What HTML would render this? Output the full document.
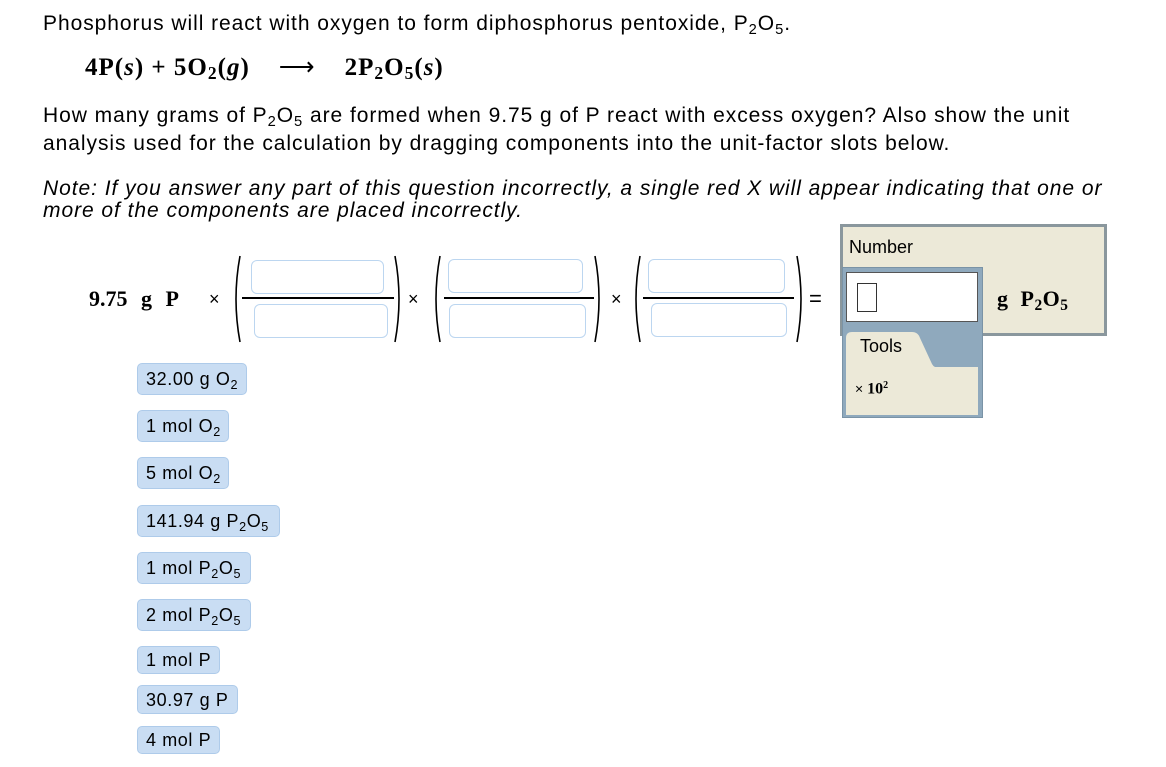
<!DOCTYPE html>
<html><head><meta charset="utf-8"><style>
body{margin:0;width:1166px;height:767px;background:#fff;position:relative;overflow:hidden;font-family:"Liberation Sans",Arial,sans-serif;color:#000}
.a{position:absolute;white-space:nowrap}
.t{font-size:21px;line-height:24px;letter-spacing:0.95px}
.s{font-family:"Liberation Serif",serif;font-weight:bold}
sub{font-size:70%;vertical-align:-4px;line-height:0}
.chip{position:absolute;left:137px;height:32px;background:#c9ddf3;border:1px solid #aecbea;border-radius:5px;box-sizing:border-box;font-size:18px;line-height:31px;padding-left:8px;letter-spacing:0.6px;white-space:nowrap}
.slot{position:absolute;border:1px solid #bcd6f0;border-radius:6px;box-sizing:border-box;background:#fff}
.ln{position:absolute;height:2px;background:#000}
.x{position:absolute;font-size:18px}
</style></head><body>
<div class="a t" style="left:43px;top:12px">Phosphorus will react with oxygen to form diphosphorus pentoxide, P<sub>2</sub>O<sub>5</sub>.</div>
<div class="a s" style="left:85px;top:52px;font-size:25px;letter-spacing:1px">4P(<i>s</i>) + 5O<sub>2</sub>(<i>g</i>) &nbsp;&nbsp;&nbsp;<span style="font-weight:normal">⟶</span>&nbsp;&nbsp;&nbsp; 2P<sub>2</sub>O<sub>5</sub>(<i>s</i>)</div>
<div class="a t" style="left:43px;top:104px">How many grams of P<sub>2</sub>O<sub>5</sub> are formed when 9.75 g of P react with excess oxygen? Also show the unit</div>
<div class="a t" style="left:43px;top:132px">analysis used for the calculation by dragging components into the unit-factor slots below.</div>
<div class="a t" style="left:43px;top:178px;font-style:italic;line-height:22px">Note: If you answer any part of this question incorrectly, a single red X will appear indicating that one or<br>more of the components are placed incorrectly.</div>

<div class="a s" style="left:89px;top:286px;font-size:22px;word-spacing:8px">9.75 g P</div>
<div class="x" style="left:209px;top:289px">×</div>
<svg style="position:absolute;left:0;top:0" width="1166" height="767" fill="none" stroke="#000" stroke-width="1.6">
<path d="M240 256 Q232 299 240 342"/><path d="M395 256 Q403 299 395 342"/>
<path d="M440 256 Q432 299 440 342"/><path d="M595 256 Q603 299 595 342"/>
<path d="M640 256 Q632 299 640 342"/><path d="M797 256 Q805 299 797 342"/>
</svg>
<div class="slot" style="left:251px;top:260px;width:133px;height:34px"></div>
<div class="ln" style="left:242px;top:297px;width:152px"></div>
<div class="slot" style="left:254px;top:304px;width:134px;height:34px"></div>
<div class="x" style="left:408px;top:289px">×</div>
<div class="slot" style="left:448px;top:259px;width:135px;height:34px"></div>
<div class="ln" style="left:444px;top:297px;width:150px"></div>
<div class="slot" style="left:449px;top:304px;width:137px;height:34px"></div>
<div class="x" style="left:611px;top:289px">×</div>
<div class="slot" style="left:648px;top:259px;width:137px;height:34px"></div>
<div class="ln" style="left:643px;top:297px;width:151px"></div>
<div class="slot" style="left:651px;top:303px;width:136px;height:34px"></div>
<div class="x" style="left:809px;top:286px;font-size:22px">=</div>

<div style="position:absolute;left:840px;top:224px;width:267px;height:112px;background:#ece9d8;border:3px solid #8a979d;box-sizing:border-box"></div>
<div class="a" style="left:849px;top:237px;font-size:18px">Number</div>
<div style="position:absolute;left:842px;top:267px;width:141px;height:151px;background:#8fa9bd;border:1px solid #7a93a6;box-sizing:border-box"></div>
<div style="position:absolute;left:846px;top:272px;width:132px;height:50px;background:#fff;border:1px solid #555;box-sizing:border-box"></div>
<div style="position:absolute;left:857px;top:283px;width:20px;height:29px;border:1px solid #333;box-sizing:border-box"></div>
<div style="position:absolute;left:846px;top:367px;width:132px;height:48px;background:#ece9d8"></div>
<svg style="position:absolute;left:846px;top:330px" width="132" height="40"><path d="M0 40 V8 Q0 2 6 2 H66 Q72 2 74 8 L86 34 Q88 38 94 38 H132 V40 Z" fill="#ece9d8"/></svg>
<div class="a" style="left:860px;top:336px;font-size:18px">Tools</div>
<div class="a" style="left:855px;top:380px;font-size:14px">× <b style="font-family:'Liberation Serif',serif;font-size:16px">10</b><sup style="font-family:'Liberation Serif',serif;font-size:10px;font-weight:bold">2</sup></div>
<div class="a s" style="left:997px;top:286px;font-size:22px;word-spacing:6px;letter-spacing:0.5px">g P<sub>2</sub>O<sub>5</sub></div>

<div class="chip" style="top:363px;width:110px">32.00 g O<sub>2</sub></div>
<div class="chip" style="top:410px;width:92px">1 mol O<sub>2</sub></div>
<div class="chip" style="top:457px;width:92px">5 mol O<sub>2</sub></div>
<div class="chip" style="top:505px;width:143px">141.94 g P<sub>2</sub>O<sub>5</sub></div>
<div class="chip" style="top:552px;width:114px">1 mol P<sub>2</sub>O<sub>5</sub></div>
<div class="chip" style="top:599px;width:114px">2 mol P<sub>2</sub>O<sub>5</sub></div>
<div class="chip" style="top:646px;width:83px;height:28px;line-height:27px">1 mol P</div>
<div class="chip" style="top:685px;width:101px;height:29px;line-height:28px">30.97 g P</div>
<div class="chip" style="top:726px;width:83px;height:28px;line-height:27px">4 mol P</div>
</body></html>
